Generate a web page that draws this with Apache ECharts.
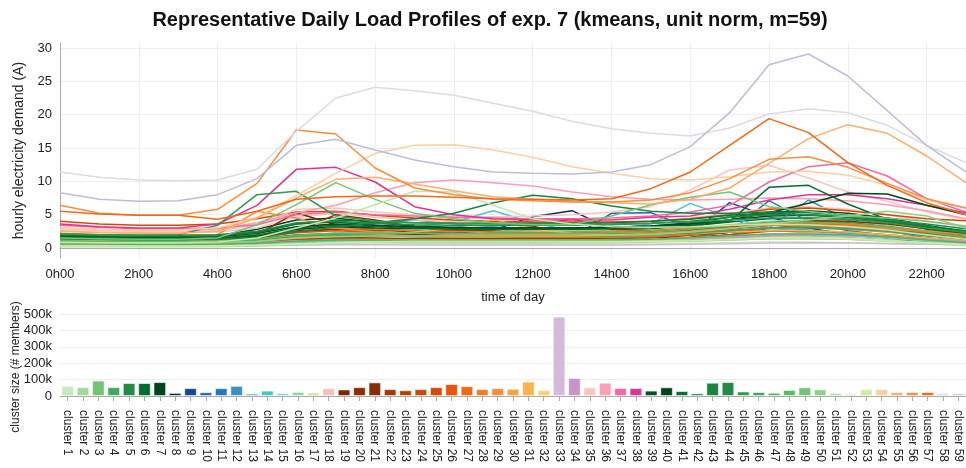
<!DOCTYPE html>
<html>
<head>
<meta charset="utf-8">
<script src="https://cdn.jsdelivr.net/npm/echarts@6/dist/echarts.min.js"></script>
<style>html,body{margin:0;padding:0;background:#fff;}#chart{width:966px;height:468px;}</style>
</head>
<body>
<div id="chart"></div>
<script>
const hours = ['0h00','1h00','2h00','3h00','4h00','5h00','6h00','7h00','8h00','9h00','10h00','11h00','12h00','13h00','14h00','15h00','16h00','17h00','18h00','19h00','20h00','21h00','22h00','23h00'];

const clusterNames = ['cluster 1','cluster 2','cluster 3','cluster 4','cluster 5','cluster 6','cluster 7','cluster 8','cluster 9','cluster 10','cluster 11','cluster 12','cluster 13','cluster 14','cluster 15','cluster 16','cluster 17','cluster 18','cluster 19','cluster 20','cluster 21','cluster 22','cluster 23','cluster 24','cluster 25','cluster 26','cluster 27','cluster 28','cluster 29','cluster 30','cluster 31','cluster 32','cluster 33','cluster 34','cluster 35','cluster 36','cluster 37','cluster 38','cluster 39','cluster 40','cluster 41','cluster 42','cluster 43','cluster 44','cluster 45','cluster 46','cluster 47','cluster 48','cluster 49','cluster 50','cluster 51','cluster 52','cluster 53','cluster 54','cluster 55','cluster 56','cluster 57','cluster 58','cluster 59'];

const clusterSizes = [62000,54000,94000,54000,79000,79000,85000,19000,48000,23000,48000,62000,15000,33000,17000,25000,21000,48000,40000,54000,83000,42000,35000,42000,54000,73000,60000,42000,48000,44000,88000,35000,484000,110000,53000,81000,49000,49000,33000,53000,30000,16000,81000,85000,28000,24000,20000,37000,53000,41000,18000,14000,41000,43000,24000,24000,24000,18000,16000];

const clusterColors = ['#c7e9c0','#a1d99b','#74c476','#41ab5d','#238b45','#006d2c','#00441b','#0b2d64','#0d4a8f','#1a65ad','#2878b8','#3a8fc5','#48a8c8','#49c6c9','#6dd3c8','#86d99a','#c6e59a','#f2c4b8','#7f2704','#8c2d04','#8a2f04','#a63603','#b34104','#c44a04','#d94801','#e6550d','#ee6a14','#f27d21','#f88e3a','#fda042','#feb24c','#fdd06b','#d4b9da','#c994c7','#fcc5c0','#fa9fb5','#f768a1','#dd3497','#0a4d2a','#00441b','#006d2c','#0a7a3a','#1a8443','#238b45','#2f9a4f','#3aa45a','#4cb565','#5cbb66','#74c476','#8fd088','#a8dca0','#c0e6b0','#d2eca0','#fdd0a2','#fdae6b','#fd8d3c','#f16913','#dadaeb','#bcbddc'];

const p01 = [0.4,0.35,0.3,0.3,0.3,0.4,0.6,0.7,0.7,0.6,0.6,0.6,0.6,0.6,0.6,0.6,0.7,0.8,0.9,0.9,0.8,0.7,0.6,0.5];
const p02 = [0.5,0.45,0.4,0.4,0.45,0.6,0.9,1.0,0.9,0.8,0.8,0.8,0.8,0.8,0.8,0.9,1.0,1.2,1.4,1.4,1.3,1.1,0.9,0.7];
const p03 = [0.8,0.7,0.7,0.7,0.7,0.9,1.3,1.4,1.2,1.1,1.0,1.0,1.0,1.0,1.0,1.1,1.3,1.6,1.9,2.0,1.9,1.6,1.3,1.0];
const p04 = [1.2,1.1,1.0,1.0,1.1,1.4,2.0,2.2,1.9,1.7,1.6,1.6,1.6,1.6,1.6,1.7,2.0,2.4,2.9,3.0,2.8,2.4,1.9,1.5];
const p05 = [1.6,1.5,1.4,1.4,1.5,1.9,2.6,2.8,2.5,2.3,2.2,2.1,2.1,2.1,2.1,2.3,2.7,3.2,3.8,3.9,3.7,3.2,2.5,2.0];
const p06 = [2.0,1.8,1.7,1.7,1.8,2.4,3.6,3.9,3.4,3.0,2.8,2.7,2.7,2.7,2.7,2.9,3.3,3.9,4.4,4.5,4.3,3.8,3.1,2.5];
const p07 = [1.8,1.7,1.6,1.6,1.8,2.8,4.2,4.5,3.8,3.3,3.0,2.9,2.9,2.9,3.0,3.2,3.6,4.2,4.8,4.9,4.6,4.0,3.2,2.5];
const p08 = [0.8,0.7,0.6,0.6,0.6,0.8,1.2,1.6,1.8,2.0,2.2,2.7,4.7,5.6,2.8,2.4,2.2,2.4,2.6,2.4,2.0,1.6,1.2,1.0];
const p09 = [0.6,0.5,0.5,0.5,0.5,0.7,1.0,1.2,1.2,1.2,1.2,1.2,1.2,1.2,1.3,1.4,2.0,6.8,4.7,3.0,2.0,1.5,1.1,0.8];
const p10 = [0.7,0.6,0.6,0.6,0.6,0.7,1.0,1.1,1.1,1.1,1.2,1.3,1.4,1.6,5.2,5.3,3.0,2.0,1.8,1.7,1.5,1.2,1.0,0.8];
const p11 = [0.6,0.5,0.5,0.5,0.5,0.6,0.9,1.0,1.0,1.0,1.0,1.0,1.0,1.1,1.2,1.3,1.6,2.4,7.1,4.0,2.6,1.9,1.3,0.9];
const p12 = [0.5,0.5,0.4,0.4,0.5,0.6,0.8,0.9,0.9,0.9,0.9,0.9,0.9,1.0,1.0,1.1,1.4,2.0,3.0,7.2,4.2,2.6,1.5,0.9];
const p13 = [0.9,0.8,0.8,0.8,0.8,1.0,1.5,2.0,3.8,4.2,3.6,3.2,2.8,2.5,2.4,2.5,3.0,3.3,3.1,2.7,2.2,1.7,1.3,1.0];
const p14 = [0.8,0.7,0.7,0.7,0.7,0.9,1.3,1.8,2.4,3.2,3.9,5.6,3.8,2.6,2.8,3.6,6.7,4.6,3.0,2.4,2.0,1.6,1.2,0.9];
const p15 = [0.4,0.4,0.3,0.3,0.4,0.5,0.8,1.0,1.1,1.1,1.1,1.1,1.1,1.1,1.1,1.2,1.4,1.7,2.0,2.0,1.8,1.5,1.0,0.6];
const p16 = [1.2,1.1,1.0,1.0,1.0,1.2,1.8,2.2,2.4,2.5,2.6,2.7,2.7,2.6,2.6,2.7,3.0,3.5,4.0,4.2,4.0,3.4,2.4,1.6];
const p17 = [0.3,0.3,0.3,0.3,0.3,0.4,0.6,0.8,1.0,1.2,1.3,1.3,1.3,1.2,1.2,1.2,1.3,1.5,1.7,1.7,1.5,1.2,0.8,0.5];
const p18 = [2.6,2.4,2.3,2.3,2.4,3.0,4.6,5.2,4.6,4.2,4.0,3.9,3.8,3.8,3.8,4.0,4.5,5.2,6.0,6.2,5.8,5.0,4.0,3.2];
const p19 = [1.0,0.9,0.9,0.9,0.9,2.0,5.3,3.5,2.8,2.4,2.2,2.0,1.9,1.9,1.9,2.0,2.2,2.6,3.0,3.2,3.0,2.6,2.0,1.4];
const p20 = [1.3,1.2,1.1,1.1,1.2,1.5,2.4,5.0,4.2,3.2,2.6,2.4,2.3,2.3,2.3,2.4,2.6,3.0,3.6,4.0,3.8,3.2,2.4,1.7];
const p21 = [1.6,1.5,1.4,1.4,1.5,1.8,2.4,2.8,2.7,2.6,2.6,2.7,3.2,4.4,2.8,2.6,2.8,3.2,3.8,4.1,4.0,3.6,2.9,2.1];
const p22 = [0.9,0.8,0.8,0.8,0.8,1.0,1.4,1.6,1.5,1.4,1.4,1.4,1.4,1.4,1.5,1.6,1.9,2.4,3.0,3.4,3.2,2.8,2.0,1.3];
const p23 = [1.1,1.0,1.0,1.0,1.0,1.3,1.9,2.1,2.0,1.9,1.8,1.8,1.8,1.8,1.9,2.0,2.3,2.8,3.4,3.6,3.4,2.9,2.2,1.6];
const p24 = [0.7,0.6,0.6,0.6,0.6,0.8,1.2,1.4,1.3,1.2,1.2,1.2,1.2,1.2,1.2,1.3,1.6,2.0,2.5,2.6,2.4,2.0,1.5,1.0];
const p25 = [4.0,3.6,3.4,3.4,3.6,4.4,5.4,5.5,4.9,4.5,4.2,4.0,3.9,3.9,3.9,4.0,4.4,5.0,5.8,6.0,5.6,5.0,4.4,4.1];
const p26 = [1.4,1.3,1.2,1.2,1.3,1.6,2.3,2.6,2.4,2.2,2.1,2.0,2.0,2.0,2.1,2.2,2.5,3.0,3.5,3.6,3.4,2.9,2.3,1.7];
const p27 = [1.0,0.9,0.9,0.9,0.9,1.1,1.6,1.9,1.8,1.7,1.6,1.6,1.6,1.6,1.6,1.7,2.0,2.5,3.0,3.2,3.0,2.5,1.9,1.3];
const p28 = [1.7,1.6,1.5,1.5,1.6,2.0,2.8,3.0,2.8,2.6,2.5,2.4,2.4,2.4,2.5,2.6,3.0,3.4,3.8,3.8,3.6,3.2,2.6,2.0];
const p29 = [2.2,2.0,1.9,1.9,2.0,5.5,4.5,3.0,2.4,2.2,2.1,2.0,2.0,2.0,2.0,2.2,2.5,3.0,3.4,3.5,3.3,2.9,2.5,2.2];
const p30 = [1.2,1.1,1.0,1.0,1.1,1.3,1.8,2.0,1.9,1.8,1.7,1.7,1.8,1.8,1.8,1.9,2.2,2.6,3.0,3.1,2.9,2.4,1.9,1.4];
const p31 = [0.9,0.8,0.8,0.8,0.8,1.0,1.5,1.8,2.0,2.4,3.0,4.3,2.8,2.2,2.0,2.0,2.2,2.4,2.6,2.6,2.4,2.0,1.5,1.1];
const p32 = [0.6,0.6,0.5,0.5,0.6,0.7,1.0,1.2,1.2,1.2,1.2,1.2,1.2,1.2,1.2,1.3,1.5,1.8,2.1,2.2,2.0,1.6,1.2,0.8];
const p33 = [0.4,0.35,0.3,0.3,0.3,0.35,0.45,0.5,0.5,0.45,0.45,0.45,0.45,0.45,0.45,0.5,0.55,0.65,0.75,0.8,0.75,0.65,0.55,0.45];
const p34 = [0.8,0.7,0.7,0.7,0.7,0.8,1.1,1.2,1.1,1.0,1.0,1.0,1.0,1.0,1.0,1.1,1.2,1.5,1.8,1.9,1.8,1.6,1.3,1.0];
const p35 = [2.8,2.6,2.5,2.5,2.6,3.4,5.8,6.0,5.4,5.0,4.8,4.7,4.8,5.0,5.4,6.2,8.7,11.7,12.4,10.5,8.4,7.0,5.4,4.3];
const p36 = [3.0,2.8,2.7,2.7,2.8,3.8,5.3,6.4,8.3,9.8,10.2,9.8,9.3,8.4,7.7,7.3,7.2,7.3,7.5,7.4,7.1,6.5,5.6,4.4];
const p37 = [3.4,3.1,2.9,2.9,3.0,3.5,5.0,5.4,5.0,4.8,4.6,4.5,4.4,4.4,4.5,4.8,5.4,6.4,9.9,12.2,12.8,10.8,7.4,5.4];
const p38 = [3.6,3.2,3.0,3.0,3.6,6.4,11.8,12.1,9.9,6.2,5.0,4.4,4.2,4.2,4.2,4.6,4.8,5.8,7.2,8.0,8.0,7.4,6.4,5.3];
const p39 = [1.5,1.4,1.3,1.3,1.4,1.8,2.8,3.2,3.0,2.9,2.9,3.0,3.0,3.0,3.1,3.3,3.8,4.6,5.4,5.6,5.2,4.5,3.4,2.4];
const p40 = [1.8,1.7,1.6,1.6,1.7,2.2,3.2,3.6,3.4,3.2,3.1,3.0,3.0,3.0,3.1,3.3,3.6,4.2,5.3,6.7,8.2,8.1,6.4,5.0];
const p41 = [1.6,1.5,1.4,1.4,1.5,1.9,3.0,3.4,3.2,3.0,2.9,2.8,2.8,2.8,2.9,3.1,3.4,4.0,9.1,9.4,6.6,4.3,2.8,2.2];
const p42 = [1.9,1.8,1.7,1.7,1.8,2.3,3.6,4.2,4.0,3.8,3.7,3.7,3.7,3.7,3.8,4.0,4.3,4.9,5.2,5.0,4.6,4.0,3.3,2.6];
const p43 = [1.4,1.3,1.2,1.2,1.3,1.6,2.4,3.2,3.8,4.4,5.2,6.8,7.9,7.4,6.3,5.5,5.2,5.2,5.4,5.3,4.9,4.2,3.3,2.2];
const p44 = [2.1,2.0,1.9,1.9,2.0,2.5,3.8,4.0,3.7,3.5,3.4,3.4,3.4,3.4,3.5,3.7,4.0,4.6,5.0,5.0,4.7,4.2,3.6,2.9];
const p45 = [2.1,2.0,1.9,2.0,3.4,8.0,8.5,4.8,4.0,3.8,3.7,3.6,3.6,3.6,3.6,3.7,3.9,4.2,4.5,4.5,4.3,3.8,3.0,2.4];
const p46 = [1.0,0.9,0.9,0.9,0.9,1.2,1.8,2.0,1.9,1.8,1.8,1.8,1.8,1.8,1.8,1.9,2.2,2.6,3.0,3.1,2.9,2.5,1.8,1.3];
const p47 = [0.6,0.6,0.5,0.5,0.6,0.7,1.0,1.2,1.2,1.2,1.2,1.2,1.2,1.2,1.2,1.3,1.5,1.8,2.1,2.1,2.0,1.7,1.2,0.8];
const p48 = [1.1,1.0,1.0,1.0,1.0,1.3,1.9,2.2,2.2,2.2,2.2,2.2,2.2,2.2,2.3,2.4,2.8,3.3,3.8,3.9,3.7,3.2,2.4,1.6];
const p49 = [1.5,1.4,1.3,1.3,1.5,3.5,6.5,9.8,7.3,5.2,4.4,3.8,3.5,3.5,4.8,6.5,7.6,8.4,6.2,5.5,4.8,4.5,4.0,3.3];
const p50 = [0.8,0.8,0.7,0.7,0.8,1.0,1.5,1.7,1.8,1.8,1.8,1.8,1.8,1.8,1.9,2.0,2.4,2.9,3.6,4.2,4.8,5.5,4.8,3.0];
const p51 = [0.2,0.2,0.2,0.2,0.2,0.3,0.5,0.7,0.9,1.0,1.0,1.0,1.0,1.0,1.0,1.0,1.1,1.2,1.4,1.4,1.3,1.0,0.7,0.4];
const p52 = [0.9,0.8,0.8,0.8,0.9,1.5,3.0,4.5,6.5,8.5,8.4,6.4,4.4,3.6,3.2,3.1,3.2,3.4,3.6,3.5,3.2,2.7,2.0,1.3];
const p53 = [0.3,0.3,0.3,0.3,0.3,0.4,0.6,0.8,0.9,0.9,0.9,0.9,0.9,0.9,0.9,1.0,1.1,1.3,1.5,1.5,1.4,1.1,0.8,0.5];
const p54 = [3.0,2.8,2.7,2.7,3.0,4.6,7.9,11.2,14.2,15.4,15.5,14.7,13.6,12.2,11.2,10.4,10.2,10.7,11.4,11.5,10.9,9.4,7.2,6.0];
const p55 = [2.5,2.3,2.2,2.2,2.5,4.5,7.5,10.3,10.6,9.6,8.6,7.7,7.3,7.0,6.8,6.6,7.3,9.0,12.7,16.4,18.5,17.2,13.8,9.8];
const p56 = [6.4,5.2,4.9,4.9,5.8,9.7,17.7,17.1,12.0,9.0,8.0,7.3,7.1,6.9,6.9,7.2,8.3,10.4,13.3,13.7,12.1,9.7,7.4,6.0];
const p57 = [5.5,5.1,4.9,4.9,4.3,5.5,7.3,7.7,7.8,7.8,7.6,7.4,7.3,7.2,7.4,8.9,11.4,15.4,19.4,17.3,12.8,9.4,6.8,5.0];
const p58 = [11.4,10.6,10.2,10.1,10.2,11.8,17.5,22.5,24.1,23.6,22.9,21.7,20.5,19.0,17.9,17.2,16.8,18.0,20.1,20.9,20.3,18.4,15.4,12.8];
const p59 = [8.3,7.3,7.0,7.1,8.0,10.4,15.4,16.3,14.7,13.2,12.2,11.4,11.2,11.1,11.4,12.5,15.2,20.3,27.5,29.1,25.8,20.6,15.4,11.4];

const profiles = [p01,p02,p03,p04,p05,p06,p07,p08,p09,p10,p11,p12,p13,p14,p15,p16,p17,p18,p19,p20,p21,p22,p23,p24,p25,p26,p27,p28,p29,p30,p31,p32,p33,p34,p35,p36,p37,p38,p39,p40,p41,p42,p43,p44,p45,p46,p47,p48,p49,p50,p51,p52,p53,p54,p55,p56,p57,p58,p59];

const FONT = '"Liberation Sans", Arial, sans-serif';
const chart = echarts.init(document.getElementById('chart'), null, {renderer: 'canvas'});

const lineSeries = profiles.map((vals, i) => ({
  name: clusterNames[i],
  type: 'line',
  xAxisIndex: 0,
  yAxisIndex: 0,
  data: vals,
  symbol: 'none',
  smooth: false,
  lineStyle: {width: 1.5, color: clusterColors[i]},
  itemStyle: {color: clusterColors[i]},
  z: 2,
  animation: false
}));

const barSeries = {
  type: 'bar',
  xAxisIndex: 1,
  yAxisIndex: 1,
  barCategoryGap: '18%',
  data: clusterSizes.map((v, i) => ({value: v, itemStyle: {color: clusterColors[i]}})),
  itemStyle: {borderColor: 'rgba(255,255,255,0.55)', borderWidth: 1},
  animation: false
};

chart.setOption({
  backgroundColor: '#ffffff',
  animation: false,
  textStyle: {fontFamily: FONT},
  title: {
    text: 'Representative Daily Load Profiles of exp. 7 (kmeans, unit norm, m=59)',
    left: 490,
    top: 10,
    padding: 0,
    textAlign: 'center',
    textStyle: {fontFamily: FONT, fontSize: 20, fontWeight: 'bold', color: '#111'}
  },
  grid: [
    {left: 60, right: -4, top: 43, bottom: 210, containLabel: false},
    {left: 60, right: -2, top: 314, bottom: 72, containLabel: false}
  ],
  xAxis: [
    {
      gridIndex: 0,
      type: 'category',
      data: hours,
      boundaryGap: false,
      name: 'time of day',
      nameLocation: 'middle',
      nameGap: 33,
      nameTextStyle: {fontFamily: FONT, fontSize: 13, color: '#222'},
      axisLine: {show: true, lineStyle: {color: '#aaaaaa', width: 1}},
      axisTick: {show: false},
      axisLabel: {interval: 1, margin: 10, fontFamily: FONT, fontSize: 13, color: '#222'},
      splitLine: {show: true, interval: 1, lineStyle: {color: '#eeeeee', width: 1}}
    },
    {
      gridIndex: 1,
      type: 'category',
      data: clusterNames,
      axisLine: {show: true, lineStyle: {color: '#aaaaaa', width: 1}},
      axisTick: {show: true, alignWithLabel: true, length: 5, lineStyle: {color: '#aaaaaa'}},
      axisLabel: {interval: 0, rotate: -90, margin: 14, fontFamily: FONT, fontSize: 12, color: '#222'},
      splitLine: {show: false}
    }
  ],
  yAxis: [
    {
      gridIndex: 0,
      type: 'value',
      min: -1.5,
      max: 30.75,
      name: 'hourly electricity demand (A)',
      nameLocation: 'middle',
      nameGap: 33,
      nameTextStyle: {fontFamily: FONT, fontSize: 14, color: '#222'},
      axisLine: {show: true, lineStyle: {color: '#aaaaaa', width: 1}},
      axisTick: {show: false},
      axisLabel: {margin: 8, fontFamily: FONT, fontSize: 13, color: '#222', showMinLabel: false, showMaxLabel: false},
      splitLine: {show: true, showMinLine: false, showMaxLine: false, lineStyle: {color: '#eeeeee', width: 1}}
    },
    {
      gridIndex: 1,
      type: 'value',
      min: 0,
      max: 500000,
      interval: 100000,
      axisLine: {show: false},
      axisTick: {show: false},
      axisLabel: {margin: 8, fontFamily: FONT, fontSize: 13, color: '#222',
        formatter: v => v === 0 ? '0' : (v / 1000) + 'k'},
      splitLine: {show: true, lineStyle: {color: '#eeeeee', width: 1}}
    }
  ],
  graphic: [{
    type: 'text',
    x: 16,
    y: 367,
    rotation: Math.PI / 2,
    style: {text: 'cluster size (# members)', fontFamily: FONT, fontSize: 12, fill: '#222', align: 'center', verticalAlign: 'middle'}
  }],
  series: lineSeries.concat([barSeries])
});
</script>
</body>
</html>
